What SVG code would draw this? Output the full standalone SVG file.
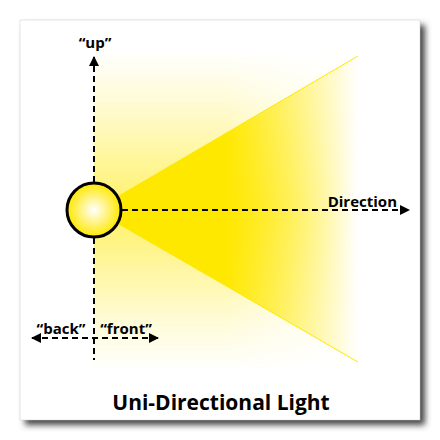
<svg xmlns="http://www.w3.org/2000/svg" width="440" height="440" viewBox="0 0 440 440">
<defs>
<style>
.ax{stroke:#000;stroke-width:2;stroke-dasharray:6 4;fill:none}
.lbl{font-family:"Open Sans","Noto Sans","DejaVu Sans",sans-serif;font-weight:bold;font-size:15px;fill:#000}
</style>
<filter id="sh" x="-10%" y="-10%" width="130%" height="130%">
<feGaussianBlur stdDeviation="3"/>
</filter>
<linearGradient id="vert" x1="0" y1="0" x2="0" y2="1">
<stop offset="0" stop-color="#ffe800" stop-opacity="0"/>
<stop offset="0.15" stop-color="#ffe800" stop-opacity="0.15"/>
<stop offset="0.5" stop-color="#ffe800" stop-opacity="0.6"/>
<stop offset="0.85" stop-color="#ffe800" stop-opacity="0.15"/>
<stop offset="1" stop-color="#ffe800" stop-opacity="0"/>
</linearGradient>
<linearGradient id="horz" x1="0" y1="0" x2="1" y2="0">
<stop offset="0" stop-color="#fff"/>
<stop offset="0.5" stop-color="#fff"/>
<stop offset="1" stop-color="#fff" stop-opacity="0"/>
</linearGradient>
<mask id="hm" maskUnits="userSpaceOnUse" x="94" y="40" width="270" height="340">
<rect x="94" y="40" width="262" height="340" fill="url(#horz)"/>
</mask>
<linearGradient id="cone" x1="112" y1="0" x2="358" y2="0" gradientUnits="userSpaceOnUse">
<stop offset="0" stop-color="#ffe800"/>
<stop offset="0.46" stop-color="#ffe800"/>
<stop offset="1" stop-color="#ffe800" stop-opacity="0"/>
</linearGradient>
<radialGradient id="bulb" cx="0.5" cy="0.5" r="0.5">
<stop offset="0" stop-color="#ffffff"/>
<stop offset="1" stop-color="#ffe800"/>
</radialGradient>
<marker id="ah" viewBox="0 0 10 10" refX="9" refY="5" markerWidth="10" markerHeight="10" markerUnits="userSpaceOnUse" orient="auto-start-reverse">
<path d="M0,0 L10,5 L0,10 Z" fill="#000"/>
</marker>
</defs>
<rect x="25" y="25" width="400" height="400" fill="#444" filter="url(#sh)"/>
<rect x="20" y="20" width="400" height="400" fill="#fff" stroke="#ccc" stroke-width="0.5"/>
<g id="glow" mask="url(#hm)">
<rect x="94" y="50" width="268" height="322" fill="url(#vert)"/>
</g>
<g id="beam">
<path d="M112,200 L358,56 L358,362 L112,220 Z" fill="url(#cone)"/>
<path d="M112,200 L358,56 M112,220 L358,362" stroke="#ffe800" stroke-width="1" fill="none"/>
</g>
<g id="connectors">
<line class="ax" x1="94" y1="182" x2="94" y2="57" marker-end="url(#ah)"/>
<line class="ax" x1="94" y1="238" x2="94" y2="360"/>
<line class="ax" x1="122" y1="210" x2="409" y2="210" marker-end="url(#ah)"/>
<line class="ax" x1="32" y1="338" x2="158" y2="338" marker-start="url(#ah)" marker-end="url(#ah)"/>
</g>
<g id="light">
<circle cx="94" cy="210" r="27" fill="url(#bulb)" stroke="#000" stroke-width="3"/>
</g>
<g id="labels">
<text class="lbl" x="95" y="48" text-anchor="middle">“up”</text>
<text class="lbl" x="397" y="207" text-anchor="end">Direction</text>
<text class="lbl" x="61" y="334" text-anchor="middle">“back”</text>
<text class="lbl" x="126" y="334" text-anchor="middle">“front”</text>
<text x="221" y="410" text-anchor="middle" font-family="'Open Sans','Noto Sans',sans-serif" font-weight="bold" font-size="21" fill="#000">Uni-Directional Light</text>
</g>
</svg>
